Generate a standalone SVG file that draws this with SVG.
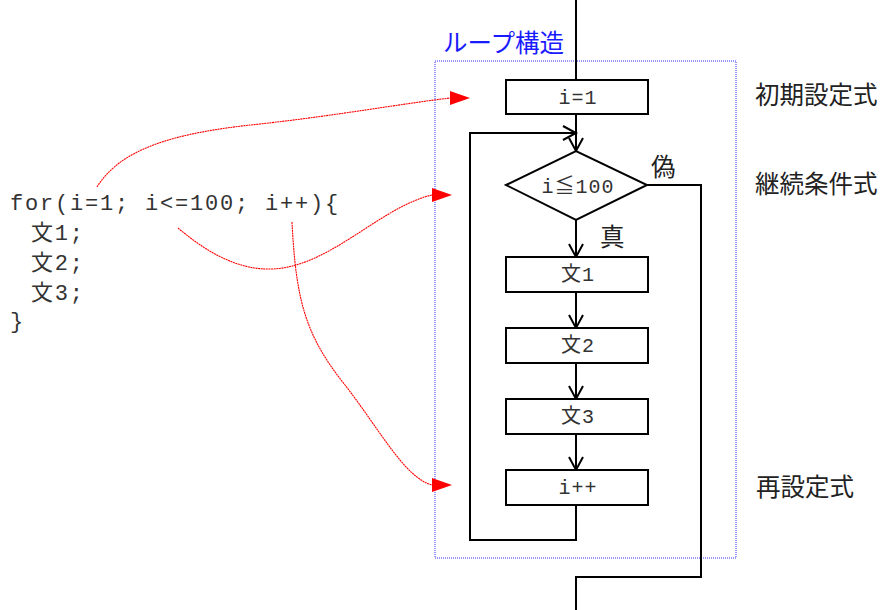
<svg xmlns="http://www.w3.org/2000/svg" width="886" height="610" viewBox="0 0 886 610">
<style>
.box{fill:#fff;stroke:#000;stroke-width:2}
.ln{fill:none;stroke:#000;stroke-width:2}
.mono{font-family:"Liberation Mono","Noto Sans CJK JP",monospace;fill:#333}
.code{font-size:22px;letter-spacing:1.8px}
.bt{font-size:20px;letter-spacing:1px;text-anchor:middle}
.lbl{font-family:"Noto Sans CJK JP",sans-serif;font-size:24.5px;fill:#222}
.red{fill:none;stroke:#f00;stroke-width:1.1;stroke-dasharray:2 0.6}
</style>
<defs>
<marker id="va" markerUnits="userSpaceOnUse" viewBox="0 0 14 16" refX="13" refY="8" markerWidth="14" markerHeight="16" orient="auto" overflow="visible">
<path d="M0,1 L13,8 L0,15" fill="none" stroke="#000" stroke-width="2"/>
</marker>
<marker id="ra" markerUnits="userSpaceOnUse" viewBox="0 0 20 14" refX="0" refY="7" markerWidth="20" markerHeight="14" orient="0">
<path d="M0,0 L20,7 L0,14 Z" fill="#f00"/>
</marker>
</defs>
<rect x="435" y="61" width="301" height="497" fill="none" stroke="#3333ff" stroke-width="1" stroke-dasharray="1 1"/>
<text x="443" y="52" font-family="Noto Sans CJK JP,sans-serif" font-size="24.5" fill="#1a1aff">ループ構造</text>
<g id="connectors">
<line class="ln" x1="576" y1="0" x2="576" y2="80"/>
<line class="ln" x1="576" y1="114" x2="576" y2="151" marker-end="url(#va)"/>
<polyline class="ln" points="576,505 576,540 470,540 470,133 576,133" marker-end="url(#va)"/>
<line class="ln" x1="576" y1="220" x2="576" y2="257" marker-end="url(#va)"/>
<line class="ln" x1="576" y1="292" x2="576" y2="328" marker-end="url(#va)"/>
<line class="ln" x1="576" y1="363" x2="576" y2="399" marker-end="url(#va)"/>
<line class="ln" x1="576" y1="434" x2="576" y2="470" marker-end="url(#va)"/>
<polyline class="ln" points="647,185 701,185 701,577 576,577 576,610"/>
<path class="red" d="M97,187 C120,150 170,133 260,124 C340,115 400,104 450,98" marker-end="url(#ra)"/>
<path class="red" d="M178,228 C210,255 240,270 272,269 C330,267 380,207 432,195" marker-end="url(#ra)"/>
<path class="red" d="M292,222 C296,300 305,335 345,385 C380,430 405,478 432,485" marker-end="url(#ra)"/>
</g>
<g id="n-init"><rect class="box" x="506" y="80" width="142" height="34"/><text class="mono bt" x="578" y="104">i=1</text></g>
<g id="n-cond"><polygon class="box" points="506,185 576,151 647,185 576,220"/><text class="mono bt" x="578" y="193" letter-spacing="2.5">i≦100</text></g>
<g id="n-s1"><rect class="box" x="506" y="257" width="142" height="35"/><text class="mono bt" x="578" y="281">文1</text></g>
<g id="n-s2"><rect class="box" x="506" y="328" width="142" height="35"/><text class="mono bt" x="578" y="352">文2</text></g>
<g id="n-s3"><rect class="box" x="506" y="399" width="142" height="35"/><text class="mono bt" x="578" y="423">文3</text></g>
<g id="n-inc"><rect class="box" x="506" y="470" width="142" height="35"/><text class="mono bt" x="578" y="494">i++</text></g>
<g id="labels">
<text class="lbl" x="651" y="176" font-size="21">偽</text>
<text class="lbl" x="600" y="246" font-size="21">真</text>
<text class="lbl" x="755" y="104">初期設定式</text>
<text class="lbl" x="755" y="193">継続条件式</text>
<text class="lbl" x="756" y="496">再設定式</text>
</g>
<g id="code">
<text class="mono code" x="10" y="210">for(i=1; i&lt;=100; i++){</text>
<text class="mono code" x="31" y="240">文1;</text>
<text class="mono code" x="31" y="270">文2;</text>
<text class="mono code" x="31" y="300">文3;</text>
<text class="mono code" x="10" y="328">}</text>
</g>
</svg>
